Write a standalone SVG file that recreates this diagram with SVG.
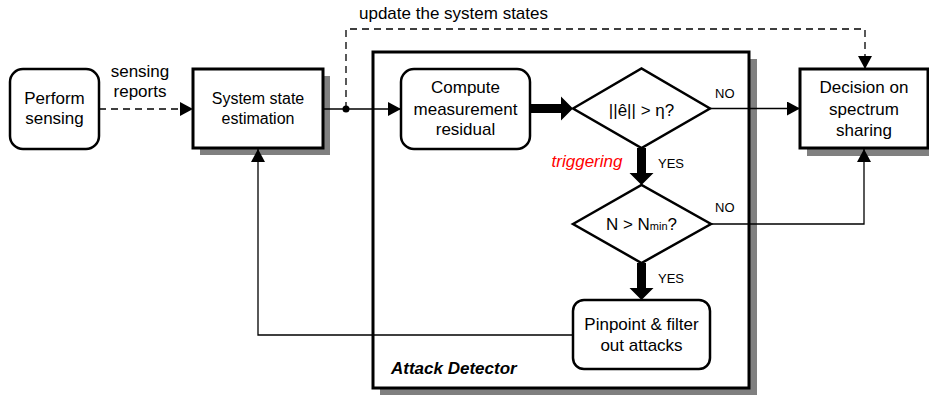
<svg xmlns="http://www.w3.org/2000/svg" width="929" height="399" viewBox="0 0 929 399">
<defs>
<style>
.box{fill:#fff;stroke:#000;stroke-width:3}
.rbox{fill:#fff;stroke:#000;stroke-width:2.5}
.dia{fill:#fff;stroke:#000;stroke-width:2.5;stroke-linejoin:miter}
.shadow{fill:#808080}
.t{font-family:"Liberation Sans",Arial,sans-serif;font-size:17px;fill:#000;text-anchor:middle}
.s{font-family:"Liberation Sans",Arial,sans-serif;font-size:13px;fill:#000}
.ln{fill:none;stroke:#000;stroke-width:1.3}
.dash{stroke-dasharray:7,5}
.thick{fill:#000}
</style>
<marker id="ah" markerUnits="userSpaceOnUse" markerWidth="14" markerHeight="14" refX="13" refY="7" orient="auto">
<path d="M0,0 L13,7 L0,14 Z" fill="#000"/>
</marker>
</defs>
<rect width="929" height="399" fill="#fff"/>

<g id="attack-detector">
<rect class="shadow" x="380" y="59" width="377" height="336"/>
<rect class="box" x="373" y="52" width="376" height="336"/>
<text x="391" y="374" style="font-family:'Liberation Sans',Arial,sans-serif;font-size:17px;font-weight:bold;font-style:italic">Attack Detector</text>
</g>

<g id="perform-sensing">
<rect class="rbox" x="10" y="69" width="89" height="80" rx="13"/>
<text class="t" x="54.5" y="104">Perform</text>
<text class="t" x="54.5" y="124">sensing</text>
</g>

<g id="system-state">
<rect class="shadow" x="200" y="76" width="130" height="79"/>
<rect class="box" x="193" y="69" width="130" height="79"/>
<text class="t" x="258" y="104" style="font-size:16px">System state</text>
<text class="t" x="258" y="124" style="font-size:16px">estimation</text>
</g>

<g id="compute-residual">
<rect class="rbox" x="401" y="69" width="129" height="80" rx="13"/>
<text class="t" x="465.5" y="93">Compute</text>
<text class="t" x="465.5" y="115">measurement</text>
<text class="t" x="465.5" y="135">residual</text>
</g>

<g id="decision-e">
<polygon class="dia" points="573,108.5 641.5,68.5 710,108.5 641.5,148"/>
<text class="t" x="641.5" y="116">||ê|| &gt; η?</text>
</g>

<g id="decision-n">
<polygon class="dia" points="573,224 641.5,185 711,224 641.5,263"/>
<text class="t" x="641.5" y="230">N &gt; N<tspan style="font-size:11px">min</tspan>?</text>
</g>

<g id="pinpoint">
<rect class="rbox" x="573" y="300" width="137" height="69" rx="11"/>
<text class="t" x="641.5" y="330">Pinpoint &amp; filter</text>
<text class="t" x="641.5" y="351">out attacks</text>
</g>

<g id="spectrum-decision">
<rect class="shadow" x="807" y="76" width="130" height="80"/>
<rect class="box" x="800" y="69" width="128" height="79"/>
<text class="t" x="864" y="93">Decision on</text>
<text class="t" x="864" y="115">spectrum</text>
<text class="t" x="864" y="136">sharing</text>
</g>

<g id="connectors">
<path class="ln dash" d="M99,109 H193" marker-end="url(#ah)"/>
<path class="ln" d="M323,109 H401" marker-end="url(#ah)"/>
<path class="ln dash" d="M346,109 V29 H865 V69" marker-end="url(#ah)"/>
<circle cx="346" cy="109" r="3.5" fill="#000"/>
<path class="ln" d="M710,108.5 H800" marker-end="url(#ah)"/>
<path class="ln" d="M711,224 H864 V149" marker-end="url(#ah)"/>
<path class="ln" d="M573,335 H258 V149" marker-end="url(#ah)"/>
<polygon class="thick" points="530,104 561,104 561,96.5 573,108.5 561,120.5 561,113 530,113"/>
<polygon class="thick" points="637,148 646,148 646,173 653.5,173 641.5,185 629.5,173 637,173"/>
<polygon class="thick" points="637,263 646,263 646,288 653.5,288 641.5,300 629.5,288 637,288"/>
<text class="t" x="140" y="77">sensing</text>
<text class="t" x="140" y="97">reports</text>
<text x="359" y="19" style="font-family:'Liberation Sans',Arial,sans-serif;font-size:17px">update the system states</text>
<text class="s" x="715" y="98">NO</text>
<text class="s" x="715" y="212">NO</text>
<text class="s" x="658" y="168">YES</text>
<text class="s" x="658" y="283">YES</text>
<text x="587" y="167" style="font-family:'Liberation Sans',Arial,sans-serif;font-size:17px;font-style:italic;fill:#ff0000;text-anchor:middle">triggering</text>
</g>
</svg>
